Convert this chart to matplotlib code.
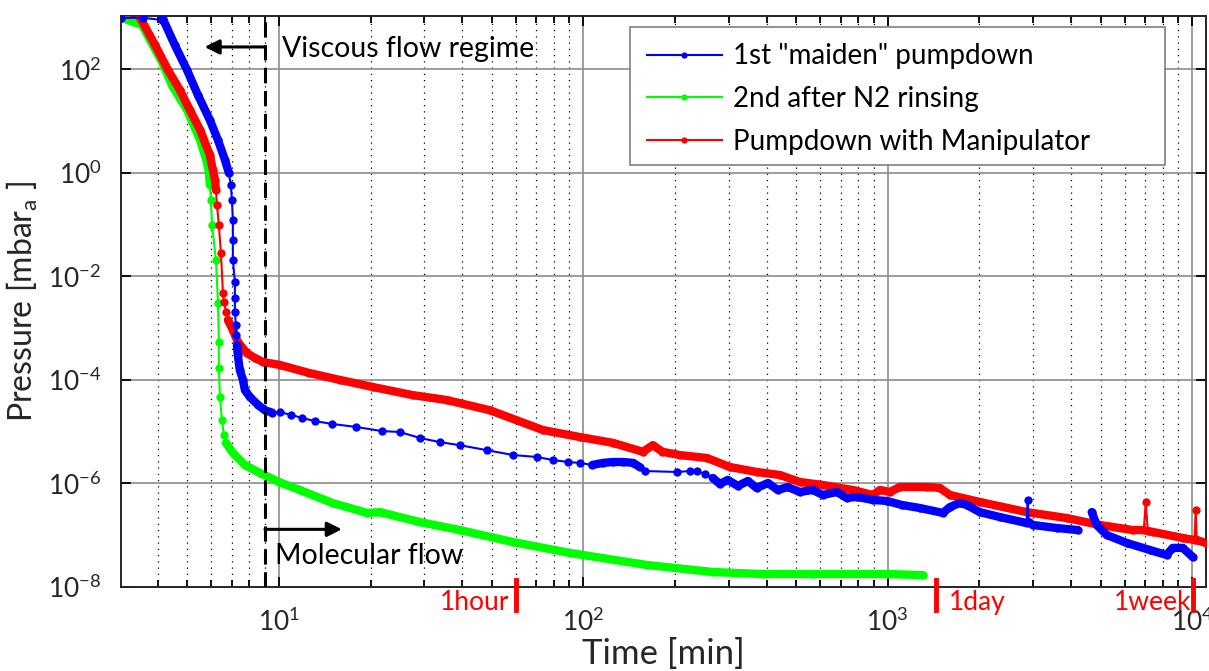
import numpy as np
import matplotlib.pyplot as plt
import matplotlib.transforms as mtransforms
from matplotlib.patches import Rectangle
from matplotlib.ticker import LogLocator, NullLocator

plt.rcParams['font.family'] = ['Lato', 'DejaVu Sans']
plt.rcParams['mathtext.fontset'] = 'custom'
plt.rcParams['mathtext.rm'] = 'Lato'
plt.rcParams['mathtext.it'] = 'Lato:italic'

# 1st "maiden" pumpdown (time in min, pressure in mbar)
t_maiden = [3.03, 3.57, 4.13, 4.16, 4.55, 4.99, 5.42, 5.93, 6.31, 6.65, 6.85, 6.95, 7.01,
            7.06, 7.06, 7.06, 7.17, 7.17, 7.17, 7.22, 7.22, 7.28, 7.33, 7.44, 7.62, 7.73,
            8.03, 8.54, 8.99, 9.49, 10.08, 11.0, 11.9, 13.1, 15.0, 17.9, 21.8, 24.9, 29.0,
            33.8, 39.3, 48.2, 58.7, 70.3, 79.4, 89.0, 97.4, 107, 116, 125, 135, 146, 153,
            159, 203, 224, 236, 251, 266, 281, 298, 322, 347, 371, 404, 435, 470, 514, 567,
            612, 681, 733, 791, 893, 993, 1111, 1274, 1517, 1600, 1724, 1817, 2004, 2332,
            2860, 2881, 2904, 2994, 3589, 4208, np.nan, 4676, 4857, 5240, 6094, 7250, 8240,
            8630, 9310, 10040]
p_maiden = [1000, 1000, 900, 946, 297, 98, 32, 10.6, 4.3, 1.78, 1.0, 0.59, 0.30,
            0.124, 0.051, 0.021, 7.8e-3, 3.8e-3, 2.1e-3, 1.16e-3, 7.4e-4, 4.7e-4, 3.04e-4,
            1.56e-4, 1.0e-4, 6.4e-5, 4.7e-5, 3.3e-5, 2.6e-5, 2.35e-5, 2.4e-5, 2.1e-5,
            1.85e-5, 1.61e-5, 1.41e-5, 1.24e-5, 1.03e-5, 9.9e-6, 7.6e-6, 6.3e-6, 5.5e-6,
            4.4e-6, 3.55e-6, 3.25e-6, 2.85e-6, 2.6e-6, 2.5e-6, 2.28e-6, 2.5e-6, 2.6e-6,
            2.6e-6, 2.5e-6, 2.08e-6, 1.74e-6, 1.67e-6, 1.74e-6, 1.74e-6, 1.53e-6, 1.28e-6,
            9.8e-7, 1.17e-6, 8.95e-7, 1.12e-6, 8.2e-7, 1.02e-6, 7.5e-7, 8.55e-7, 6.85e-7,
            7.5e-7, 6.0e-7, 6.85e-7, 5.25e-7, 5.5e-7, 4.8e-7, 4.6e-7, 3.85e-7, 3.36e-7,
            2.7e-7, 3.5e-7, 4.2e-7, 3.85e-7, 2.8e-7, 2.25e-7, 1.72e-7, 4.8e-7, 1.8e-7,
            1.58e-7, 1.38e-7, 1.26e-7, np.nan, 2.8e-7, 1.58e-7, 1.01e-7, 7.1e-8, 5.2e-8,
            4.15e-8, 5.7e-8, 5.7e-8, 3.8e-8]

# 2nd pumpdown after N2 rinsing
t_rinsed = [3.03, 3.55, 3.85, 4.13, 4.45, 4.99, 5.51, 5.80, 5.89, 5.93, 5.98, 6.03, 6.21,
            6.31, 6.35, 6.35, 6.40, 6.50, 6.60, 6.70, 7.06, 7.73, 8.66, 10.0, 11.7, 15.0,
            19.5, 21.5, 29.0, 39.3, 58.7, 90.3, 162, 266, 388, 567, 993, 1303]
p_rinsed = [1000, 725, 297, 140, 50, 16.5, 4.3, 1.63, 1.0, 0.59, 0.30, 0.099, 0.021,
            3.1e-3, 5.4e-4, 1.71e-4, 4.7e-5, 1.69e-5, 8.65e-6, 6.1e-6, 3.9e-6, 2.28e-6,
            1.6e-6, 1.07e-6, 7.5e-7, 4.2e-7, 2.7e-7, 2.8e-7, 1.8e-7, 1.26e-7, 7.4e-8,
            4.55e-8, 2.66e-8, 1.95e-8, 1.78e-8, 1.78e-8, 1.78e-8, 1.7e-8]

# pumpdown with manipulator installed
t_manip = [3.03, 3.50, 3.92, 4.32, 4.73, 5.10, 5.51, 5.93, 6.07, 6.17, 6.21, 6.26, 6.35,
           6.45, 6.55, 6.60, 6.70, 6.80, 7.06, 7.33, 7.85, 8.34, 8.86, 10.08, 12.6, 15.9,
           20.4, 27.5, 35.6, 49.3, 73.6, 97.4, 125, 157, 169, 182, 207, 255, 303, 371, 442,
           514, 612, 767, 893, 942, 1016, 1095, 1343, 1483, 1600, 2004, 2860, 3871, 4970,
           6378, 6935, 7037, 7150, 7420, 9310, 10180, 10270, 10350, 11070]
p_manip = [1000, 1000, 297, 98, 40, 16.5, 6.8, 2.23, 1.14, 0.73, 0.47, 0.24, 0.099,
           0.028, 4.8e-3, 3.2e-3, 2.1e-3, 1.44e-3, 9.2e-4, 5.4e-4, 3.3e-4, 2.66e-4,
           2.23e-4, 1.95e-4, 1.36e-4, 1.0e-4, 7.3e-5, 5.1e-5, 4.1e-5, 2.6e-5, 1.08e-5,
           7.9e-6, 6.1e-6, 4.1e-6, 5.5e-6, 4.1e-6, 3.55e-6, 3.1e-6, 2.08e-6, 1.67e-6,
           1.46e-6, 1.07e-6, 9.35e-7, 7.5e-7, 6.0e-7, 7.5e-7, 6.85e-7, 8.55e-7, 8.55e-7,
           8.2e-7, 6.0e-7, 4.4e-7, 2.8e-7, 2.15e-7, 1.58e-7, 1.26e-7, 1.26e-7, 4.4e-7,
           1.21e-7, 1.16e-7, 8.85e-8, 8.1e-8, 3.08e-7, 8.1e-8, 7.1e-8]

labels = ['1st "maiden" pumpdown', '2nd after N2 rinsing', 'Pumpdown with Manipulator']

# time marks: 1 hour, 1 day, 1 week in minutes
mark_t = [60, 1440, 10080]
mark_txt = ['1hour', '1day', '1week']

t_flow = 9.0  # viscous / molecular boundary

fig = plt.figure(figsize=(12.09, 6.71), dpi=100)
ax = fig.add_axes([0.1001, 0.1252, 0.8974, 0.851])

# index ranges where the logger sampled densely (drawn as a solid band),
# pressure spikes are left out so they stay thin
series = [
    (t_maiden, p_maiden, (0, 0, 1), 5, [(3, 11), (21, 30), (47, 53), (58, 84), (85, None)]),
    (t_rinsed, p_rinsed, (0, 1, 0), 3, [(0, 10), (19, None)]),
    (t_manip, p_manip, (1, 0, 0), 4, [(1, 11), (17, 57), (58, 62), (63, None)]),
]
handles = []
for (t, p, c, z, dense), lab in zip(series, labels):
    h, = ax.plot(t, p, color=c, marker='o', markersize=6, markeredgewidth=0,
                 linewidth=1.5, zorder=z, label=lab)
    handles.append(h)
    for a, b in dense:
        ax.plot(t[a:b], p[a:b], color=c, linewidth=6, solid_capstyle='round',
                solid_joinstyle='round', zorder=z)

ax.set_xscale('log')
ax.set_yscale('log')
ax.set_xlim(3.03, 11100)
ax.set_ylim(1e-8, 1080)

ax.xaxis.set_major_locator(LogLocator(base=10, numticks=10))
ax.xaxis.set_minor_locator(LogLocator(base=10, subs=np.arange(2, 10), numticks=20))
ax.yaxis.set_major_locator(LogLocator(base=100, numticks=10))
ax.yaxis.set_minor_locator(NullLocator())

ax.grid(which='major', color='#8c8c8c', linestyle='-', linewidth=1.2)
ax.grid(which='minor', axis='x', color='k', linestyle=(0, (1, 4)), linewidth=0.9)
ax.tick_params(which='both', direction='in', top=True, right=True, labelsize=19,
               width=1.3, color='k', labelcolor='#262626')
ax.tick_params(axis='x', which='both', pad=15)
ax.tick_params(axis='y', which='both', pad=14)
ax.tick_params(which='major', length=7)
ax.tick_params(which='minor', length=5)
for s in ax.spines.values():
    s.set_linewidth(1.4)
    s.set_color('#262626')

ax.set_xlabel('Time [min]', fontsize=25, color='#262626', labelpad=2)
ax.set_ylabel('Pressure [mbar$_{\\mathregular{a}}$ ]', fontsize=23, color='#262626',
              labelpad=6)

# flow regime boundary
ax.axvline(t_flow, color='k', linestyle=(0, (5, 2.5)), linewidth=2.2, zorder=6)
ax.annotate('', xy=(5.7, 272), xytext=(t_flow, 272),
            arrowprops=dict(arrowstyle='-|>', color='k', lw=2.2, mutation_scale=22,
                            shrinkA=0, shrinkB=0))
ax.text(10.2, 250, 'Viscous flow regime', fontsize=20.5, va='center', ha='left')
ax.annotate('', xy=(16.1, 1.3e-7), xytext=(t_flow, 1.3e-7),
            arrowprops=dict(arrowstyle='-|>', color='k', lw=2.2, mutation_scale=22,
                            shrinkA=0, shrinkB=0))
ax.text(9.7, 4.0e-8, 'Molecular flow', fontsize=20.5, va='center', ha='left')

# hour/day/week marks under the time axis
trans = mtransforms.blended_transform_factory(ax.transData, ax.transAxes)
offsets = [(-5, 'right'), (9, 'left'), (-1, 'right')]
for t, txt, (dx, ha) in zip(mark_t, mark_txt, offsets):
    ax.plot([t, t], [0.012, -0.04], color='r', linewidth=3.5, transform=trans,
            clip_on=False, zorder=7)
    ax.annotate(txt, xy=(t, -0.028), xycoords=trans, xytext=(dx, 0),
                textcoords='offset points', color='r', fontsize=19, ha=ha, va='center',
                annotation_clip=False, zorder=8)

# legend with a wide square frame
box = Rectangle((0.469, 0.739), 0.962 - 0.469, 0.981 - 0.739, transform=ax.transAxes,
                facecolor='white', edgecolor='#7f7f7f', linewidth=1.2, zorder=9)
ax.add_patch(box)
leg = ax.legend(handles=handles, loc='upper left', bbox_to_anchor=(0.469, 0.981),
                fontsize=20, frameon=False, handlelength=2.7, handletextpad=0.4,
                labelspacing=0.6, borderpad=0.6, borderaxespad=0, markerscale=0.75)
leg.set_zorder(10)

fig.savefig('out.png', dpi=100)
